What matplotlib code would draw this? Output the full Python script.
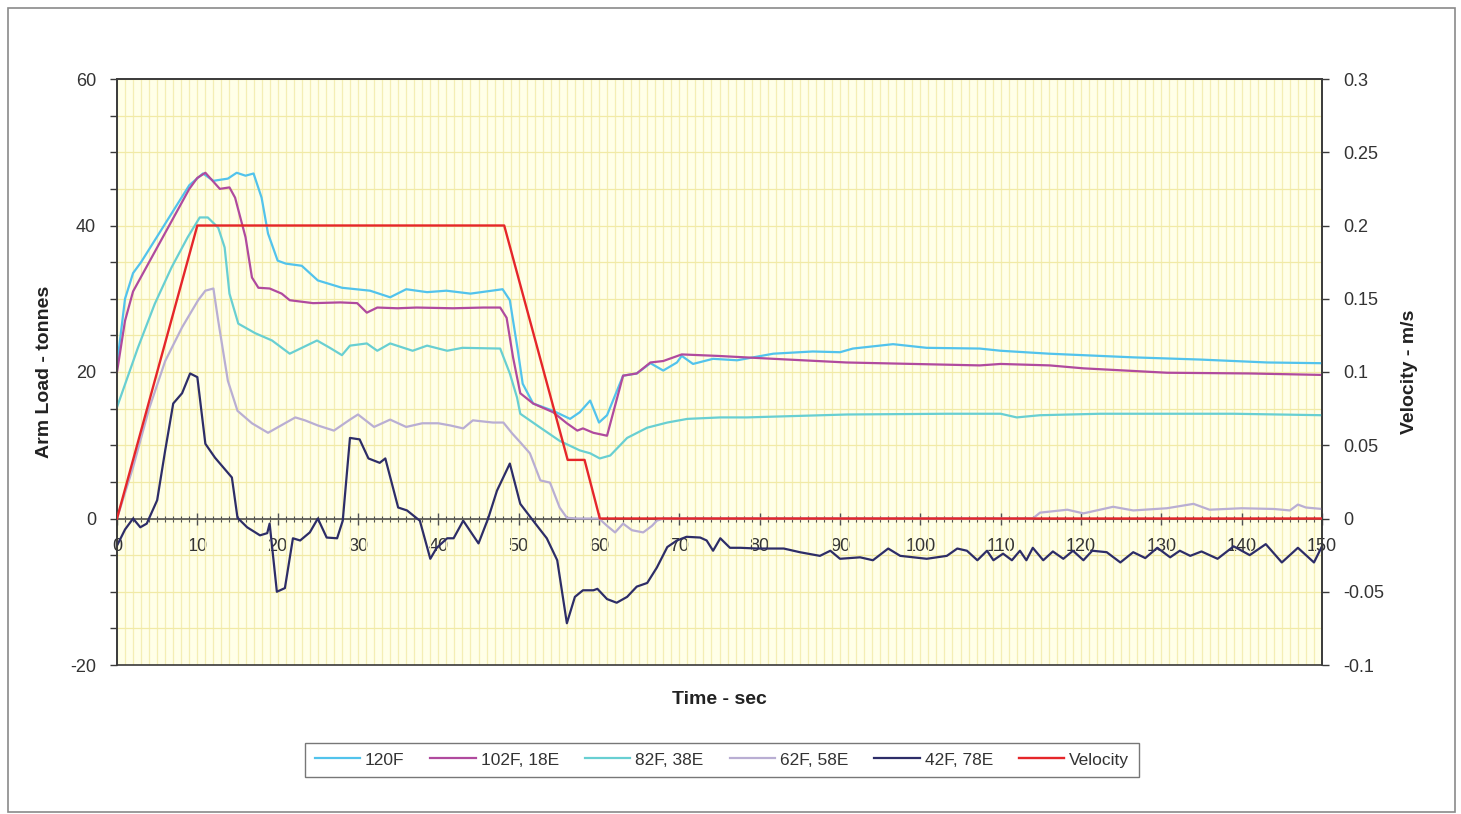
import matplotlib
matplotlib.use("Agg")
import matplotlib.pyplot as plt
from matplotlib.patches import Rectangle
from matplotlib.ticker import MultipleLocator, FixedLocator
import numpy as np

plt.rcParams['font.family'] = ['Liberation Sans', 'DejaVu Sans']
plt.rcParams['axes.unicode_minus'] = False

# ---------------- data ----------------
t_120f = [0, 1, 2, 3, 5, 7, 9, 10.7, 12, 13.8, 14.9, 16, 17, 18, 18.8, 20, 21, 23, 25, 28, 31.5, 34, 36, 38.6, 41, 44, 48, 48.9, 49.9, 50.5, 51.8, 54.3, 56.4, 57.6, 58.9, 60, 61, 63, 64.7, 66.4, 68, 69.7, 70.3, 71.7, 74.2, 77.2, 81.7, 86.6, 90, 91.6, 96.6, 100.8, 107.4, 110, 116, 126.5, 134.8, 143.2, 150]
l_120f = [21, 30, 33.5, 35, 38.5, 42, 45.5, 47.1, 46.1, 46.4, 47.2, 46.8, 47.1, 43.8, 38.9, 35.2, 34.8, 34.5, 32.5, 31.5, 31.1, 30.2, 31.3, 30.9, 31.1, 30.7, 31.3, 29.8, 22.9, 18.4, 15.7, 14.7, 13.6, 14.5, 16.1, 13.1, 14.1, 19.5, 19.8, 21.2, 20.2, 21.3, 22.2, 21.1, 21.8, 21.6, 22.5, 22.8, 22.7, 23.2, 23.8, 23.3, 23.2, 22.9, 22.5, 22, 21.7, 21.3, 21.2]

t_102f = [0, 1, 2, 3, 5, 7, 9, 10, 11, 12.8, 14, 14.7, 16, 16.8, 17.6, 19, 20.5, 21.5, 24.4, 27.8, 29.9, 31.1, 32.4, 34.9, 37.3, 41.8, 45.6, 47.7, 48.5, 49.3, 50.2, 51.8, 54.3, 56, 57.3, 58, 59.3, 61, 63, 64.7, 66.4, 68, 70.3, 74.7, 81.7, 90.8, 99.1, 107.4, 110, 116.1, 120.3, 130.7, 141, 150]
l_102f = [20, 27, 31, 33, 37, 41, 45, 46.5, 47.2, 45, 45.2, 43.8, 38.4, 32.9, 31.5, 31.4, 30.7, 29.8, 29.4, 29.5, 29.4, 28.1, 28.8, 28.7, 28.8, 28.7, 28.8, 28.8, 27.4, 22, 17.1, 15.7, 14.5, 13, 12, 12.3, 11.7, 11.3, 19.5, 19.8, 21.3, 21.5, 22.4, 22.2, 21.8, 21.3, 21.1, 20.9, 21.1, 20.9, 20.5, 19.9, 19.8, 19.6]

t_82f = [0, 2.6, 4.7, 6.8, 8.8, 10.3, 11.3, 12.6, 13.4, 14, 15.1, 17.2, 19.3, 21.5, 24.9, 26.5, 28, 29, 31.1, 32.4, 34, 36.8, 38.6, 41.1, 43, 47.7, 48.9, 49.8, 50.2, 52.7, 55.1, 57.6, 58.9, 60.1, 61.4, 63.5, 66, 68.5, 71, 75.1, 78.4, 90.9, 103.3, 110, 112, 114.9, 122.4, 139, 150]
l_82f = [15.2, 23.3, 29.3, 34.3, 38.4, 41.1, 41.1, 39.7, 37, 30.7, 26.6, 25.3, 24.3, 22.5, 24.3, 23.3, 22.3, 23.6, 23.9, 22.9, 23.9, 22.9, 23.6, 22.9, 23.3, 23.2, 19.8, 16.5, 14.3, 12.4, 10.6, 9.3, 8.9, 8.2, 8.6, 11, 12.4, 13.1, 13.6, 13.8, 13.8, 14.2, 14.3, 14.3, 13.8, 14.1, 14.3, 14.3, 14.1]

t_62f = [0, 2, 4, 6, 8.1, 10.1, 11, 12, 12.6, 13.8, 15, 16.8, 18.8, 20.9, 22.2, 23.4, 25, 27, 29, 30, 32, 34, 36, 38, 40, 41.5, 43.1, 44.3, 46.8, 48.1, 49.2, 50.2, 51.4, 52.7, 53.9, 55.1, 56, 57.3, 60, 61, 62, 63, 64.1, 65.5, 66.6, 67.2, 68, 114, 114.9, 118.3, 120.3, 124, 126.5, 130.7, 134, 136, 140, 144, 146, 147, 148, 150]
l_62f = [0, 7, 15, 21.5, 26.1, 29.8, 31.1, 31.4, 27, 18.8, 14.7, 13, 11.7, 13, 13.8, 13.4, 12.7, 12, 13.5, 14.2, 12.5, 13.5, 12.5, 13, 13, 12.7, 12.3, 13.4, 13.1, 13.1, 11.6, 10.4, 8.9, 5.2, 4.9, 1.5, 0.1, 0, 0, -1, -1.9, -0.7, -1.6, -1.9, -1, -0.3, 0, 0, 0.8, 1.2, 0.7, 1.6, 1.1, 1.4, 2, 1.2, 1.4, 1.3, 1.1, 1.9, 1.5, 1.3]

t_42f = [0, 1, 2, 2.9, 3.7, 5, 6, 7, 8.1, 9.1, 10, 11, 12.2, 14.3, 15, 16.2, 17.8, 18.7, 19, 19.9, 20.9, 21.9, 22.8, 24, 25, 26.1, 27.4, 28.1, 29, 30.2, 31.3, 32.7, 33.4, 35, 36.1, 37.7, 39, 39.8, 41.1, 41.9, 43.1, 45, 46.2, 47.3, 48.9, 50.2, 51.8, 53.5, 54.8, 56, 57, 58, 59.3, 59.8, 61, 62.2, 63.5, 64.7, 66, 67.2, 68.5, 69.7, 70.9, 72.6, 73.4, 74.2, 75.1, 76.3, 77.6, 79.7, 83, 85, 87.5, 88.8, 90, 92.5, 94.1, 96, 97.5, 100.8, 103.3, 104.6, 105.8, 107.1, 108.3, 109.1, 110.3, 111.4, 112.4, 113.2, 114, 115.3, 116.5, 117.8, 119, 120.3, 121.4, 123.2, 124.9, 126.5, 128, 129.5, 131.1, 132.3, 133.6, 135, 137, 139, 141, 143, 145, 147, 149, 150]
l_42f = [-3.7, -1.5, 0, -1.2, -0.7, 2.5, 9.3, 15.7, 17.1, 19.8, 19.3, 10.2, 8.3, 5.6, 0.1, -1.2, -2.3, -2, -0.7, -10, -9.5, -2.7, -3, -1.9, 0, -2.6, -2.7, -0.3, 11, 10.8, 8.2, 7.6, 8.2, 1.5, 1.1, -0.3, -5.5, -4, -2.7, -2.7, -0.3, -3.4, 0, 3.8, 7.5, 2, -0.3, -2.7, -5.7, -14.3, -10.7, -9.8, -9.8, -9.6, -11, -11.5, -10.7, -9.3, -8.8, -6.7, -3.9, -3, -2.5, -2.6, -3, -4.4, -2.7, -4, -4, -4.1, -4.1, -4.6, -5.1, -4.4, -5.5, -5.3, -5.7, -4.1, -5.1, -5.5, -5.1, -4.1, -4.4, -5.7, -4.4, -5.7, -4.8, -5.7, -4.4, -5.7, -4, -5.7, -4.5, -5.5, -4.4, -5.7, -4.4, -4.6, -6, -4.6, -5.4, -4, -5.3, -4.4, -5.1, -4.5, -5.5, -3.8, -5, -3.5, -6, -4, -6, -3.8]

t_vel = [0, 10, 48.2, 56.1, 58.2, 60.1, 150]
v_vel = [0, 0.2, 0.2, 0.04, 0.04, 0, 0]

labels = ['120F', '102F, 18E', '82F, 38E', '62F, 58E', '42F, 78E', 'Velocity']
colors = ['#52C3EC', '#B04A9E', '#68CFD2', '#B9AED3', '#2D2D68', '#E5262A']
right_ticks = [-0.1, -0.05, 0, 0.05, 0.1, 0.15, 0.2, 0.25, 0.3]
right_labels = ['-0.1', '-0.05', '0', '0.05', '0.1', '0.15', '0.2', '0.25', '0.3']

# ---------------- figure ----------------
W, H = 1461, 814
fig = plt.figure(figsize=(W / 100, H / 100), dpi=100)
fig.patch.set_facecolor('white')
fig.add_artist(Rectangle((8 / W, 2 / H), 1447 / W, 804 / H, transform=fig.transFigure,
                         fill=False, edgecolor='#8a8a8a', linewidth=1.2))

L, R, T, B = 117, 1322, 79, 665
ax = fig.add_axes([L / W, 1 - B / H, (R - L) / W, (B - T) / H])
ax.set_facecolor('#FFFFE8')
ax.set_xlim(0, 150)
ax.set_ylim(-20, 60)

# grid
ax.xaxis.set_minor_locator(MultipleLocator(1))
ax.xaxis.set_major_locator(MultipleLocator(10))
ax.yaxis.set_major_locator(FixedLocator([-20, 0, 20, 40, 60]))
ax.yaxis.set_minor_locator(MultipleLocator(5))
ax.grid(True, which='both', axis='x', color='#F4EEB4', linewidth=0.9)
ax.grid(True, which='both', axis='y', color='#F1EAA6', linewidth=0.9)
ax.set_axisbelow(True)

for s in ['top', 'left', 'right']:
    ax.spines[s].set_color('#3a3a3a')
    ax.spines[s].set_linewidth(1.2)
ax.spines['bottom'].set_position(('data', 0))
ax.spines['bottom'].set_color('#505050')
ax.spines['bottom'].set_linewidth(1.2)
ax.add_patch(Rectangle((0, 0), 1, 1, transform=ax.transAxes, fill=False,
                       edgecolor='#3a3a3a', linewidth=1.2, zorder=6, clip_on=False))

ax.tick_params(axis='x', which='major', direction='inout', length=8, width=1,
               color='#505050', labelsize=13, labelcolor='#333333', pad=10)
ax.tick_params(axis='x', which='minor', direction='inout', length=5, width=0.8, color='#505050')
ax.tick_params(axis='y', which='both', direction='out', length=5, width=1,
               color='#3a3a3a', labelsize=13, labelcolor='#333333', pad=10)

ax.set_xlabel('Time - sec', fontsize=14, fontweight='bold', color='#222222')
ax.xaxis.set_label_coords(0.5, -0.045)
ax.set_ylabel('Arm Load - tonnes', fontsize=14, fontweight='bold', color='#222222', labelpad=12)

series_t = [t_120f, t_102f, t_82f, t_62f, t_42f]
series_l = [l_120f, l_102f, l_82f, l_62f, l_42f]
handles = []
for tt, ll, c, lab in zip(series_t, series_l, colors[:5], labels[:5]):
    h, = ax.plot(tt, ll, color=c, linewidth=1.6, label=lab, zorder=3)
    handles.append(h)

ax2 = ax.twinx()
ax2.set_ylim(-0.1, 0.3)
ax2.yaxis.set_major_locator(FixedLocator(right_ticks))
ax2.set_yticklabels(right_labels)
ax2.tick_params(axis='y', direction='out', length=5, width=1, color='#3a3a3a',
                labelsize=13, labelcolor='#333333', pad=10)
for s in ax2.spines.values():
    s.set_visible(False)
ax2.set_ylabel('Velocity - m/s', fontsize=14, fontweight='bold', color='#222222', labelpad=12)
hv, = ax2.plot(t_vel, v_vel, color=colors[5], linewidth=1.7, label=labels[5], zorder=4)
handles.append(hv)

leg = fig.legend(handles=handles, labels=labels, loc='center', ncol=6,
                 bbox_to_anchor=(722 / W, 1 - 760 / H), fontsize=12.5, frameon=True,
                 fancybox=False, edgecolor='#555555', handlelength=2.6, handletextpad=0.3,
                 columnspacing=1.5, borderpad=0.55)
leg.get_frame().set_linewidth(1.0)
for txt in leg.get_texts():
    txt.set_color('#333333')

fig.savefig('out.png', dpi=100)
